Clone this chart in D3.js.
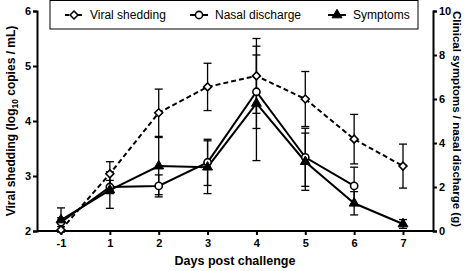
<!DOCTYPE html>
<html>
<head>
<meta charset="utf-8">
<script src="https://cdn.jsdelivr.net/npm/d3@7"></script>
<style>
  body { margin: 0; background: #fff; }
  svg { font-family: Arial, "Liberation Sans", Helvetica, sans-serif; }
</style>
</head>
<body>
<div class="chart"></div>
<script>
const days = [-1, 1, 2, 3, 4, 5, 6, 7];
const viral = [2.02, 3.04, 4.15, 4.62, 4.82, 4.40, 3.67, 3.18];
const viralErr = [0.0, 0.22, 0.43, 0.43, 0.68, 0.50, 0.45, 0.40];
const nasal = [0.4, 2.0, 2.05, 3.12, 6.33, 3.35, 2.05, null];
const nasalErr = [0.2, 0.3, 0.5, 1.05, 1.67, 1.32, 0.85, null];
const symptoms = [0.5, 1.86, 2.95, 2.9, 5.8, 3.15, 1.26, 0.32];
const symptomsErr = [0.55, 0.83, 1.3, 1.2, 2.6, 1.3, 0.53, 0.2];
const leftTicks = [2, 3, 4, 5, 6];
const rightTicks = [0, 2, 4, 6, 8, 10];

const width = 470, height = 271;
const plotL = 37, plotR = 433, plotT = 11, plotB = 231;

const svg = d3.select('.chart').append('svg')
  .attr('width', width).attr('height', height);

const x = d3.scalePoint().domain(days).range([61, 403]);
const yL = d3.scaleLinear().domain([2, 6]).range([plotB, plotT]);
const yR = d3.scaleLinear().domain([0, 10]).range([plotB, plotT]);

// axes
function styleAxis(g) {
  g.selectAll('path, line').attr('stroke', '#000').attr('stroke-width', 2);
  g.selectAll('text').attr('font-size', 11).attr('font-weight', 'bold').attr('fill', '#000');
}
svg.append('g').attr('transform', `translate(0,${plotB})`)
  .call(d3.axisBottom(x).tickSizeOuter(0).tickSize(4).tickPadding(4))
  .call(g => g.select('.domain').attr('d', `M${plotL},0H${plotR}`))
  .call(styleAxis);
svg.append('g').attr('transform', `translate(${plotL},0)`)
  .call(d3.axisLeft(yL).tickValues(leftTicks).tickFormat(d3.format('d'))
    .tickSizeOuter(0).tickSize(4).tickPadding(2))
  .call(styleAxis);
svg.append('g').attr('transform', `translate(${plotR},0)`)
  .call(d3.axisRight(yR).tickValues(rightTicks).tickFormat(d3.format('d'))
    .tickSizeOuter(0).tickSize(4).tickPadding(2))
  .call(styleAxis);

// axis titles
svg.append('text')
  .attr('x', 235).attr('y', 265).attr('text-anchor', 'middle')
  .attr('font-size', 12.5).attr('font-weight', 'bold')
  .text('Days post challenge');
const lt = svg.append('text')
  .attr('transform', `translate(15,${(plotT + plotB) / 2}) rotate(-90)`)
  .attr('text-anchor', 'middle').attr('font-size', 12).attr('font-weight', 'bold');
lt.append('tspan').text('Viral shedding (log');
lt.append('tspan').attr('font-size', 8.5).attr('dy', 3).text('10');
lt.append('tspan').attr('dy', -3).text(' copies / mL)');
svg.append('text')
  .attr('transform', `translate(453,${(plotT + plotB) / 2 - 2}) rotate(90)`)
  .attr('text-anchor', 'middle').attr('font-size', 11.5).attr('font-weight', 'bold')
  .text('Clinical symptoms / nasal discharge (g)');

// series
const series = [
  { vals: viral, err: viralErr, y: yL, dash: '5,3', marker: 'diamond' },
  { vals: nasal, err: nasalErr, y: yR, dash: null, marker: 'circle' },
  { vals: symptoms, err: symptomsErr, y: yR, dash: null, marker: 'triangle' }
];

const cap = 4;
series.forEach(s => {
  const pts = days.map((d, i) => ({ d, v: s.vals[i], e: s.err[i] })).filter(p => p.v != null);
  const eb = svg.append('g').attr('stroke', '#000').attr('stroke-width', 1.3);
  pts.filter(p => p.e > 0).forEach(p => {
    const hi = s.y(p.v + p.e), lo = s.y(p.v - p.e), cx = x(p.d);
    eb.append('line').attr('x1', cx).attr('x2', cx).attr('y1', hi).attr('y2', lo);
    eb.append('line').attr('x1', cx - cap).attr('x2', cx + cap).attr('y1', hi).attr('y2', hi);
    eb.append('line').attr('x1', cx - cap).attr('x2', cx + cap).attr('y1', lo).attr('y2', lo);
  });
});

series.forEach(s => {
  const pts = days.map((d, i) => ({ d, v: s.vals[i] })).filter(p => p.v != null);
  svg.append('path').datum(pts)
    .attr('fill', 'none').attr('stroke', '#000').attr('stroke-width', 2)
    .attr('stroke-dasharray', s.dash)
    .attr('d', d3.line().x(p => x(p.d)).y(p => s.y(p.v)));
});

function marker(g, type, cx, cy) {
  if (type === 'diamond') {
    g.append('path').attr('d', d3.symbol(d3.symbolDiamond2, 40)())
      .attr('transform', `translate(${cx},${cy})`)
      .attr('fill', '#fff').attr('stroke', '#000').attr('stroke-width', 1.6);
  } else if (type === 'circle') {
    g.append('circle').attr('cx', cx).attr('cy', cy).attr('r', 3.6)
      .attr('fill', '#fff').attr('stroke', '#000').attr('stroke-width', 1.6);
  } else {
    g.append('path').attr('d', d3.symbol(d3.symbolTriangle, 42)())
      .attr('transform', `translate(${cx},${cy})`)
      .attr('fill', '#000').attr('stroke', '#000').attr('stroke-width', 1);
  }
}

series.forEach(s => {
  const g = svg.append('g');
  days.forEach((d, i) => {
    if (s.vals[i] != null) marker(g, s.marker, x(d), s.y(s.vals[i]));
  });
});

// legend
const leg = svg.append('g');
leg.append('rect').attr('x', 50).attr('y', 0.5).attr('width', 368).attr('height', 28.5)
  .attr('fill', '#fff').attr('stroke', '#000').attr('stroke-width', 1);
const legItems = [
  { label: 'Viral shedding', x: 65, marker: 'diamond', dash: '4,2.5' },
  { label: 'Nasal discharge', x: 190, marker: 'circle', dash: null },
  { label: 'Symptoms', x: 328, marker: 'triangle', dash: null }
];
legItems.forEach(it => {
  leg.append('line').attr('x1', it.x).attr('x2', it.x + 18).attr('y1', 15).attr('y2', 15)
    .attr('stroke', '#000').attr('stroke-width', 2).attr('stroke-dasharray', it.dash);
  marker(leg, it.marker, it.x + 9, 15);
  leg.append('text').attr('x', it.x + 25).attr('y', 19)
    .attr('font-size', 12).text(it.label);
});
</script>
</body>
</html>
